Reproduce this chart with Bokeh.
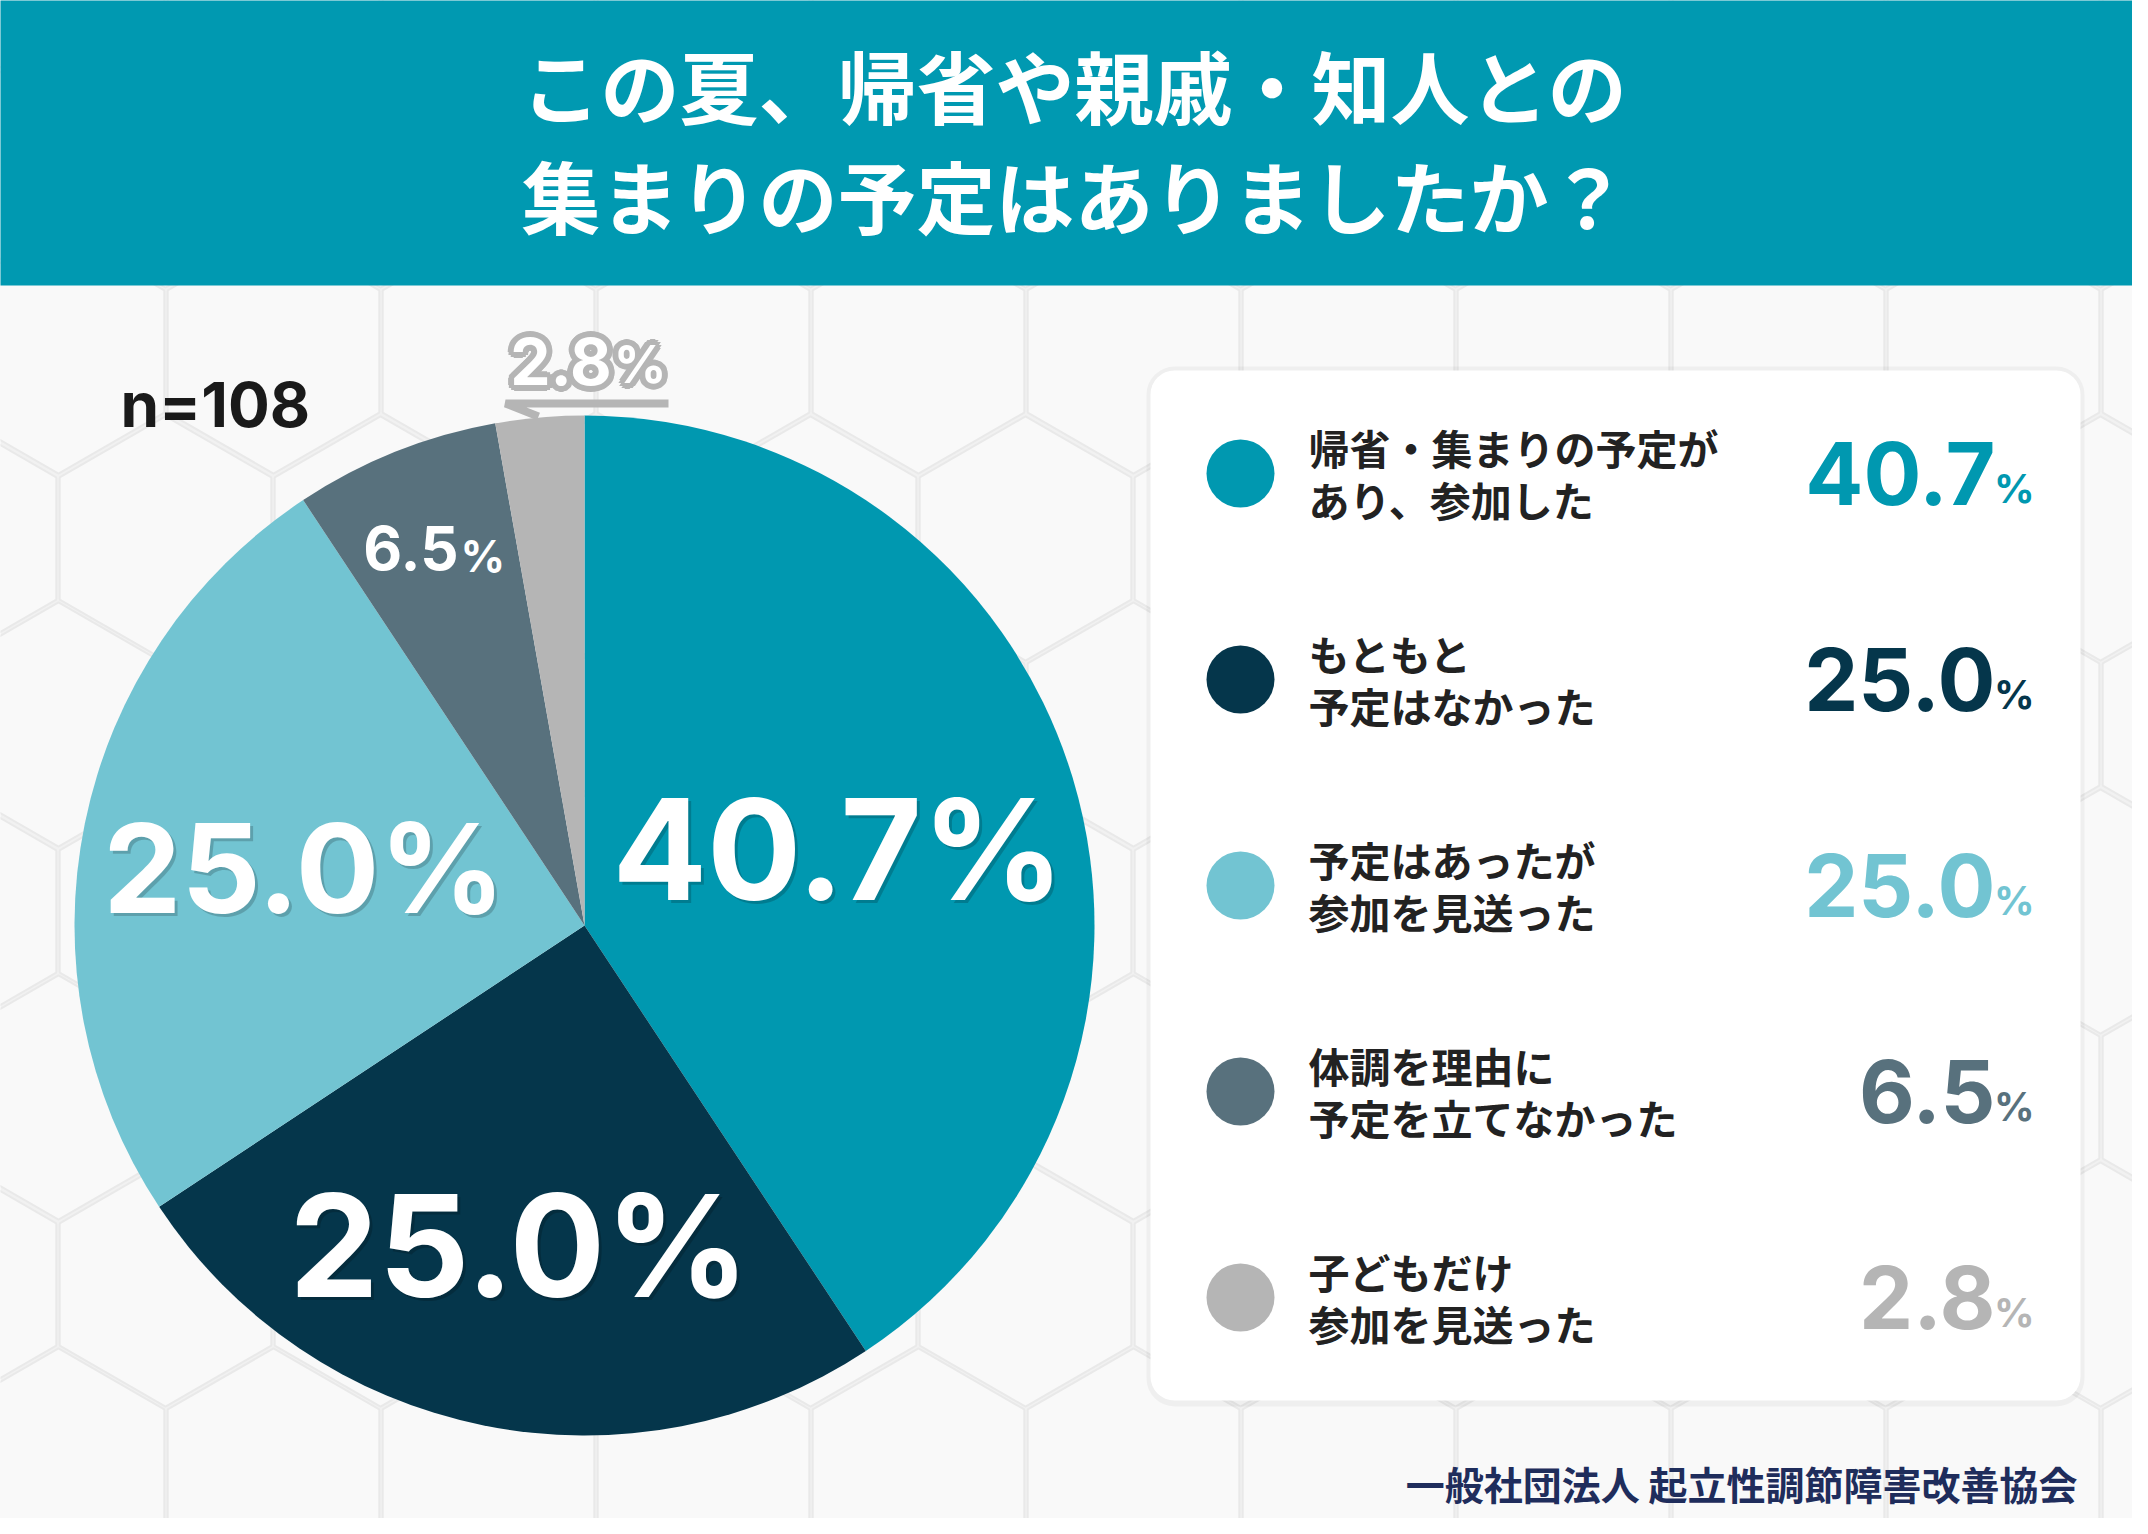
import numpy as np
from bokeh.plotting import figure
from bokeh.models import ColumnDataSource, Range1d, BoxAnnotation
from bokeh.core.properties import value
from bokeh.embed import file_html
from bokeh.resources import INLINE

# ---------------------- datos ----------------------
title_lines = ["この夏、帰省や親戚・知人との", "集まりの予定はありましたか？"]
categories = [
    "帰省・集まりの予定が\nあり、参加した",
    "もともと\n予定はなかった",
    "予定はあったが\n参加を見送った",
    "体調を理由に\n予定を立てなかった",
    "子どもだけ\n参加を見送った",
]
percents = [40.7, 25.0, 25.0, 6.5, 2.8]
colors = ["#0098B0", "#05364B", "#72C4D2", "#58717D", "#B5B5B5"]
sample_label = "n=108"
source_label = "一般社団法人 起立性調節障害改善協会"

W, H = 2148, 1534
PW, PH = W - 16, H - 16
JP = value("Noto Sans CJK JP")
NUM = value("Inter")


def Y(y):
    # fila en pixeles de la imagen -> coordenada y
    return H - y


p = figure(width=PW, height=PH, x_range=Range1d(0, PW), y_range=Range1d(H - PH, H),
           output_backend="svg", toolbar_location=None, min_border=0)
p.axis.visible = False
p.grid.visible = False
p.outline_line_color = None
p.background_fill_color = "#F1F1F1"
p.border_fill_color = "#F1F1F1"

# ---------------------- fondo hexagonal ----------------------
hw = 215.0
hs = hw / np.sqrt(3)
hx, hy = [], []
ang = np.radians(30 + 60 * np.arange(6))
for m in range(-1, 6):
    for x0, y0 in [(273, 351), (165, 538)]:
        for k in range(-2, 12):
            cx0 = x0 + hw * k
            cy0 = y0 + 373 * m
            hx.append(list(cx0 + (hs - 2) * np.cos(ang)))
            hy.append(list(Y(cy0 + (hs - 2) * np.sin(ang))))
p.patches(hx, hy, fill_color="#F9F9F9", line_color="#E9E9E9", line_width=2, level="image")

# cabecera
p.quad(left=-20, right=W + 20, top=Y(-20), bottom=Y(285), fill_color="#0099B1", line_color=None, level="image")
p.text(x=[W / 2] * 2, y=[Y(84), Y(194)], text=title_lines, text_font=JP, text_font_style="bold",
       text_font_size="79px", text_color="white", text_align="center", text_baseline="middle")

# ---------------------- pastel ----------------------
cx, cy, R = 584, Y(925), 510
frac = np.array(percents) / sum(percents)
ends = np.cumsum(frac)
starts = ends - frac
src = ColumnDataSource(dict(
    start=np.pi / 2 - 2 * np.pi * starts,
    end=np.pi / 2 - 2 * np.pi * ends,
    color=colors,
))
p.wedge(x=cx, y=cy, radius=R, start_angle="start", end_angle="end", direction="clock",
        fill_color="color", line_color=None, source=src)

mid = np.pi / 2 - 2 * np.pi * (starts + ends) / 2
label_r = [265, 326, 286, 407, 566]
label_dx = [0, 0, 0, 0, 52]
lx = cx + np.array(label_r) * np.cos(mid) + np.array(label_dx)
ly = cy + np.array(label_r) * np.sin(mid)

# etiquetas grandes
big_sizes = ["140px", "142px", "124px"]
for i in range(3):
    p.text(x=[lx[i] + 3], y=[ly[i] - 3], text=[f"{percents[i]:.1f}%"], text_font=NUM, text_font_style="bold",
           text_font_size=big_sizes[i], text_color="black", text_alpha=0.18,
           text_align="center", text_baseline="middle")
    p.text(x=[lx[i]], y=[ly[i]], text=[f"{percents[i]:.1f}%"], text_font=NUM, text_font_style="bold",
           text_font_size=big_sizes[i], text_color="white", text_align="center", text_baseline="middle")

# 6.5%
p.text(x=[lx[3] + 25], y=[ly[3]], text=[f"{percents[3]:.1f}"], text_font=NUM, text_font_style="bold",
       text_font_size="60px", text_color="white", text_align="right", text_baseline="middle")
p.text(x=[lx[3] + 27], y=[ly[3] - 8], text=["%"], text_font=NUM, text_font_style="bold",
       text_font_size="44px", text_color="white", text_align="left", text_baseline="middle")

# 2.8% fuera del pastel, con contorno grueso
ring = np.radians(np.arange(0, 360, 30))
ox = list(6 * np.cos(ring))
oy = list(6 * np.sin(ring))
for dx, dy in zip(ox, oy):
    p.text(x=[lx[4] + 25 + dx], y=[ly[4] + dy], text=[f"{percents[4]:.1f}"], text_font=NUM,
           text_font_style="bold", text_font_size="64px", text_color=colors[4],
           text_align="right", text_baseline="middle")
    p.text(x=[lx[4] + 27 + dx], y=[ly[4] - 3 + dy], text=["%"], text_font=NUM, text_font_style="bold",
           text_font_size="52px", text_color=colors[4], text_align="left", text_baseline="middle")
p.text(x=[lx[4] + 25], y=[ly[4]], text=[f"{percents[4]:.1f}"], text_font=NUM, text_font_style="bold",
       text_font_size="64px", text_color="white", text_align="right", text_baseline="middle")
p.text(x=[lx[4] + 27], y=[ly[4] - 3], text=["%"], text_font=NUM, text_font_style="bold",
       text_font_size="52px", text_color="white", text_align="left", text_baseline="middle")
p.line(x=[538, 505, 668], y=[Y(416), Y(403), Y(403)], line_color=colors[4], line_width=8)

p.text(x=[120], y=[Y(404)], text=[sample_label], text_font=NUM, text_font_style="bold",
       text_font_size="62px", text_color="#1A1A1A", text_align="left", text_baseline="middle")

# ---------------------- leyenda ----------------------
shadow = BoxAnnotation(left=1146, right=2084, bottom=Y(1406), top=Y(366), fill_color="black", fill_alpha=0.04,
                       line_color=None, border_radius=28, level="underlay")
box = BoxAnnotation(left=1150, right=2080, bottom=Y(1400), top=Y(370), fill_color="white", fill_alpha=1,
                    line_color=None, border_radius=24, level="underlay")
p.add_layout(shadow)
p.add_layout(box)

row_y = [473 + 206 * i for i in range(len(categories))]
leg = ColumnDataSource(dict(
    x=[1240] * len(categories),
    y=[Y(r) for r in row_y],
    l1=[c.split("\n")[0] for c in categories],
    l2=[c.split("\n")[1] for c in categories],
    y1=[Y(r - 27) for r in row_y],
    y2=[Y(r + 25) for r in row_y],
    yp=[Y(r + 15) for r in row_y],
    val=[f"{v:.1f}" for v in percents],
    pct=["%"] * len(categories),
    color=colors,
))
p.circle(x="x", y="y", radius=34, fill_color="color", line_color=None, source=leg)
p.text(x=1308, y="y1", text="l1", text_font=JP, text_font_style="bold", text_font_size="41px",
       text_color="#222222", text_baseline="middle", source=leg)
p.text(x=1308, y="y2", text="l2", text_font=JP, text_font_style="bold", text_font_size="41px",
       text_color="#222222", text_baseline="middle", source=leg)
p.text(x=1995, y="y", text="val", text_font=NUM, text_font_style="bold", text_font_size="86px",
       text_color="color", text_align="right", text_baseline="middle", source=leg)
p.text(x=2034, y="yp", text="pct", text_font=NUM, text_font_style="bold", text_font_size="40px",
       text_color="color", text_align="right", text_baseline="middle", source=leg)

# fuente
p.text(x=[2077], y=[Y(1482)], text=[source_label], text_font=JP, text_font_style="bold",
       text_font_size="39px", text_color="#1F2D5C", text_align="right", text_baseline="middle")

open("out.html", "w", encoding="utf-8").write(file_html(p, INLINE))
